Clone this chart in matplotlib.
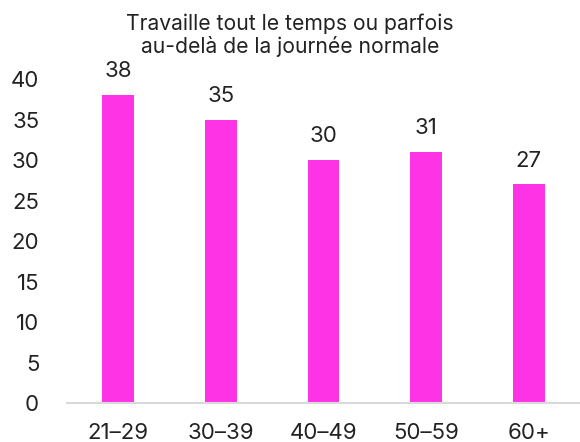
import matplotlib
matplotlib.use("Agg")
import matplotlib.pyplot as plt

categories = ["21–29", "30–39", "40–49", "50–59", "60+"]
values = [38, 35, 30, 31, 27]
yticks = [0, 5, 10, 15, 20, 25, 30, 35, 40]
title = "Travaille tout le temps ou parfois\nau-delà de la journée normale"

plt.rcParams['font.family'] = ['Inter', 'DejaVu Sans']
fig = plt.figure(figsize=(5.8, 4.42), dpi=100)
ax = fig.add_axes([0.1155, 0.088, 0.8845, 0.733])
x = list(range(len(categories)))
bars = ax.bar(x, values, width=0.31, color="#FF33E6")
for xi, v in zip(x, values):
    ax.annotate(str(v), (xi, v), xytext=(0, 10), textcoords="offset points",
                ha="center", va="bottom", fontsize=16, color="#222222")
ax.set_xlim(-0.5, 4.5)
ax.set_ylim(0, 40)
ax.set_yticks(yticks)
ax.set_xticks(x)
ax.set_xticklabels(categories)
for s in ["top", "right", "left"]:
    ax.spines[s].set_visible(False)
ax.spines["bottom"].set_color("#D9D9D9")
ax.spines["bottom"].set_linewidth(1.5)
ax.tick_params(axis="both", length=0, labelsize=16, colors="#222222")
ax.tick_params(axis="y", pad=20)
ax.tick_params(axis="x", pad=14)
fig.text(0.5, 0.97, title, ha="center", va="top", fontsize=15.2, color="#222222", linespacing=1.15)
fig.savefig("out.png", dpi=100)
